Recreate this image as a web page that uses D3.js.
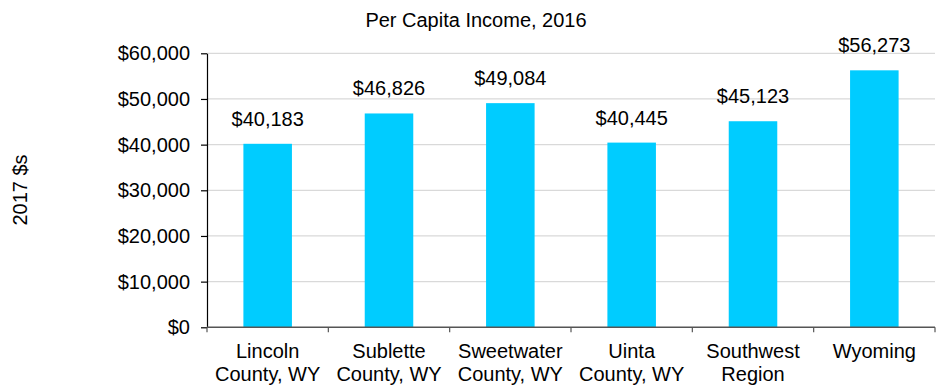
<!DOCTYPE html>
<html>
<head>
<meta charset="utf-8">
<script src="https://cdn.jsdelivr.net/npm/d3@7"></script>
<style>
  html, body { margin: 0; padding: 0; background: #fff; }
  svg { display: block; font-family: "Liberation Sans", Arial, sans-serif; }
</style>
</head>
<body>
<svg id="chart" width="941" height="385"></svg>
<script>
// Per capita income by area, 2016 (in 2017 dollars)
const categories = [
  ["Lincoln", "County, WY"],
  ["Sublette", "County, WY"],
  ["Sweetwater", "County, WY"],
  ["Uinta", "County, WY"],
  ["Southwest", "Region"],
  ["Wyoming"]
];
const incomeValues = [40183, 46826, 49084, 40445, 45123, 56273];
const yTickValues = [0, 10000, 20000, 30000, 40000, 50000, 60000];
const chartTitle = "Per Capita Income, 2016";
const yAxisTitle = "2017 $s";

const svg = d3.select("#chart");
const plotLeft = 207, plotRight = 935, plotTop = 53.3, plotBottom = 327.3;
const fontSize = 20;

const keys = categories.map(c => c.join(" "));
const x = d3.scaleBand().domain(keys).range([plotLeft, plotRight])
  .paddingInner(0.6).paddingOuter(0.3);
const y = d3.scaleLinear().domain([0, 60000]).range([plotBottom, plotTop]);

const fmt = d3.format("$,");

// Horizontal gridlines
svg.append("g").selectAll("line")
  .data(yTickValues.filter(v => v > 0))
  .join("line")
  .attr("x1", plotLeft).attr("x2", plotRight)
  .attr("y1", d => y(d)).attr("y2", d => y(d))
  .attr("stroke", "#d9d9d9").attr("stroke-width", 1.2);

// Bars
svg.append("g").selectAll("rect")
  .data(incomeValues)
  .join("rect")
  .attr("x", (d, i) => x(keys[i]))
  .attr("width", x.bandwidth())
  .attr("y", d => y(d))
  .attr("height", d => y(0) - y(d))
  .attr("fill", "#00ccff");

// Value labels above bars
svg.append("g").selectAll("text")
  .data(incomeValues)
  .join("text")
  .attr("x", (d, i) => x(keys[i]) + x.bandwidth() / 2)
  .attr("y", d => y(d) - 18)
  .attr("text-anchor", "middle")
  .attr("font-size", fontSize)
  .attr("fill", "#000")
  .text(d => fmt(d));

// Y axis
const yAxis = d3.axisLeft(y).tickValues(yTickValues).tickFormat(fmt)
  .tickSizeInner(6).tickSizeOuter(0).tickPadding(11);
const yg = svg.append("g").attr("transform", `translate(${plotLeft},0)`).call(yAxis);
yg.select(".domain").attr("stroke", "#000").attr("stroke-width", 1.2);
yg.selectAll(".tick line").attr("stroke", "#000").attr("stroke-width", 1.2);
yg.selectAll(".tick text").attr("font-size", fontSize).attr("font-family", "Liberation Sans, Arial, sans-serif").attr("fill", "#000");

// X axis baseline with category dividers
const dividers = d3.range(categories.length + 1).map(i => plotLeft + i * (plotRight - plotLeft) / categories.length);
const xg = svg.append("g");
xg.append("line")
  .attr("x1", plotLeft).attr("x2", plotRight)
  .attr("y1", plotBottom).attr("y2", plotBottom)
  .attr("stroke", "#555").attr("stroke-width", 1.5);
xg.selectAll("line.div")
  .data(dividers)
  .join("line").attr("class", "div")
  .attr("x1", d => d).attr("x2", d => d)
  .attr("y1", plotBottom).attr("y2", plotBottom + 5)
  .attr("stroke", "#555").attr("stroke-width", 1.2);

// Category labels (two lines)
const catLabels = xg.selectAll("text.cat")
  .data(categories)
  .join("text").attr("class", "cat")
  .attr("text-anchor", "middle")
  .attr("font-size", fontSize)
  .attr("fill", "#000")
  .attr("transform", (d, i) => `translate(${x(keys[i]) + x.bandwidth() / 2},${plotBottom + 30.5})`);
catLabels.selectAll("tspan")
  .data(d => d)
  .join("tspan")
  .attr("x", 0)
  .attr("dy", (d, i) => i === 0 ? 0 : 23.5)
  .text(d => d);

// Title
svg.append("text")
  .attr("x", 476).attr("y", 27)
  .attr("text-anchor", "middle")
  .attr("font-size", fontSize)
  .attr("fill", "#000")
  .text(chartTitle);

// Y axis title
svg.append("text")
  .attr("transform", `translate(27,190) rotate(-90)`)
  .attr("text-anchor", "middle")
  .attr("font-size", fontSize)
  .attr("fill", "#000")
  .text(yAxisTitle);
</script>
</body>
</html>
